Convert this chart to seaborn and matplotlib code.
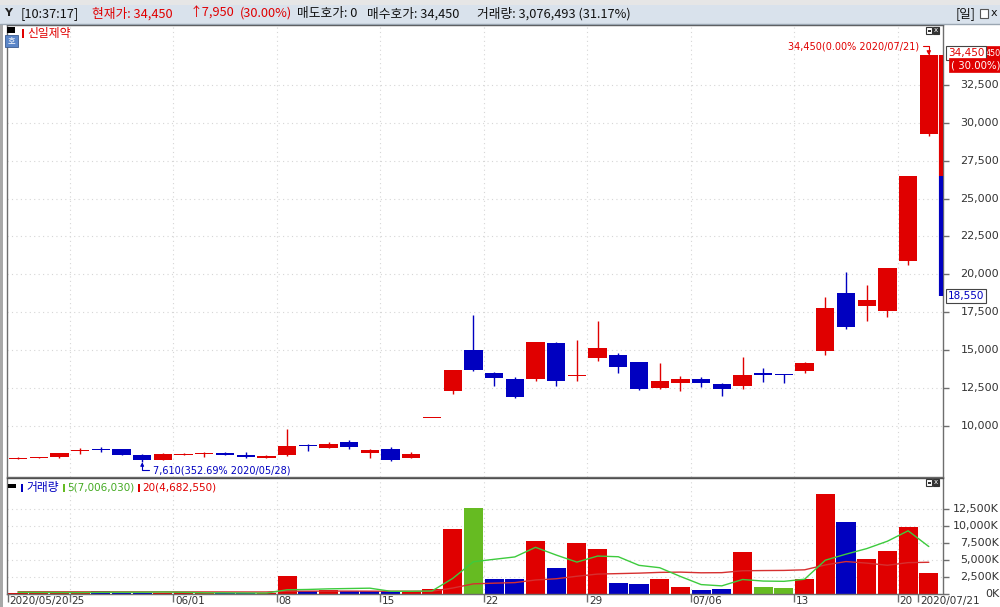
import numpy as np
import pandas as pd
import matplotlib
matplotlib.use("Agg")
import matplotlib.pyplot as plt
import matplotlib.transforms as mtrans
from matplotlib.patches import Rectangle
import seaborn as sns

# ---------------- data ----------------
dates = ["05/20", "05/21", "05/22", "05/25", "05/26", "05/27", "05/28", "05/29",
         "06/01", "06/02", "06/03", "06/04", "06/05", "06/08", "06/09", "06/10",
         "06/11", "06/12", "06/15", "06/16", "06/17", "06/18", "06/19", "06/22",
         "06/23", "06/24", "06/25", "06/26", "06/29", "06/30", "07/01", "07/02",
         "07/03", "07/06", "07/07", "07/08", "07/09", "07/10", "07/13", "07/14",
         "07/15", "07/16", "07/17", "07/20", "07/21"]
opens = [7850, 7900, 7950, 8350, 8420, 8460, 8090, 7760, 8100, 8180, 8240, 8090,
         7920, 8090, 8750, 8570, 8960, 8240, 8460, 7910, 10550, 12310, 15000, 13480,
         13080, 13080, 15470, 13300, 14470, 14680, 14200, 12530, 12820, 13080, 12750,
         12640, 13480, 13400, 13630, 14970, 18790, 17940, 17600, 20900, 29250]
highs = [7950, 7980, 8250, 8530, 8640, 8500, 8150, 8200, 8200, 8300, 8260, 8300,
         8080, 9800, 8800, 8920, 9100, 8450, 8640, 8260, 10550, 13700, 17300, 13560,
         13210, 15540, 15540, 15700, 16950, 14830, 14200, 14140, 13300, 13250, 12820,
         14570, 13800, 13420, 14220, 18490, 20180, 19300, 20400, 26500, 34450]
lows = [7830, 7880, 7920, 8130, 8270, 8060, 7610, 7740, 8100, 7980, 8080, 7870,
        7900, 8050, 8350, 8560, 8460, 7870, 7690, 7900, 10550, 12110, 13600, 12640,
        11870, 12970, 12640, 13000, 14290, 13520, 12370, 12420, 12310, 12550, 11980,
        12440, 12920, 12820, 13480, 14680, 16420, 16950, 17210, 20600, 29150]
closes = [7900, 7960, 8200, 8400, 8400, 8090, 7760, 8130, 8150, 8200, 8100, 7950,
          8040, 8680, 8650, 8790, 8640, 8420, 7760, 8130, 10550, 13700, 13700, 13150,
          11910, 15540, 12990, 13340, 15120, 13870, 12420, 12990, 13120, 12820, 12440,
          13350, 13350, 13350, 14180, 17800, 16550, 18310, 20400, 26500, 34450]
# volume in thousands
volumes = [180, 100, 270, 270, 420, 180, 180, 180, 270, 100, 100, 100, 150, 2650,
           370, 520, 370, 370, 370, 370, 770, 9600, 12680, 2160, 2160, 7860, 3900,
           7470, 6620, 1660, 1510, 2160, 1010, 620, 710, 6180, 1010, 820, 2160,
           14760, 10640, 5130, 6280, 9850, 3076]
vol_kind = ["r", "r", "r", "r", "b", "b", "b", "r", "r", "r", "b", "b", "r", "r",
            "b", "r", "b", "b", "b", "r", "r", "r", "g", "b", "b", "r", "b", "r",
            "r", "b", "b", "r", "r", "b", "b", "r", "g", "g", "r", "r", "b", "r",
            "r", "r", "r"]
ma5 = [250, 230, 220, 210, 250, 260, 260, 300, 250, 180, 170, 150, 140, 620, 670,
       760, 810, 860, 400, 400, 450, 2300, 4760, 5120, 5470, 6890, 5750, 4710, 5600,
       5500, 4230, 3880, 2590, 1390, 1200, 2140, 1910, 1870, 2180, 4990, 5880, 6700,
       7790, 9330, 7006]
ma20 = [330, 330, 325, 320, 320, 320, 315, 315, 310, 310, 305, 300, 300, 420, 420,
        430, 430, 420, 410, 410, 405, 880, 1500, 1600, 1680, 2070, 2250, 2620, 2940,
        3010, 3080, 3190, 3230, 3130, 3150, 3430, 3460, 3480, 3570, 4290, 4790, 4560,
        4240, 4630, 4683]
week_bounds = [2.5, 7.5, 12.5, 17.5, 22.5, 27.5, 32.5, 37.5, 42.5]
xtick_pos = [-0.5, 2.5, 7.5, 12.5, 17.5, 22.5, 27.5, 32.5, 37.5, 42.5, 43.5]
xtick_labels = ["2020/05/20", "25", "06/01", "08", "15", "22", "29", "07/06",
                "13", "20", "2020/07/21"]
price_ticks = [10000, 12500, 15000, 17500, 20000, 22500, 25000, 27500, 30000, 32500]
vol_ticks = [0, 2500, 5000, 7500, 10000, 12500]
upper_limit, base_price, lower_limit = 34450, 26500, 18550
header_segments = [("[10:37:17]", "k"), ("현재가: 34,450", "r"), ("↑7,950", "r"),
                   ("(30.00%)", "r"), ("매도호가: 0", "k"), ("매수호가: 34,450", "k"),
                   ("거래량: 3,076,493 (31.17%)", "k")]
header_x = [21, 92, 190, 240, 297, 367, 477]
stock_name = "신일제약"
vol_legend = ["거래량", "5(7,006,030)", "20(4,682,550)"]
max_note = "34,450(0.00% 2020/07/21)"
min_note = "7,610(352.69% 2020/05/28)"

# ---------------- style ----------------
RED = "#E00000"
BLUE = "#0000C0"
GREENBAR = "#66BB22"
MA5C = "#3DCB3D"
MA20C = "#D63030"
GRID = "#D6D6D6"
AXC = "#6E6E6E"
TXT = "#333333"
HDR = "#D9E2EC"
kind_col = {"r": RED, "b": BLUE, "g": GREENBAR, "k": "#111111"}

sns.set_theme(style="white")
plt.rcParams["font.family"] = ["Noto Sans CJK KR", "DejaVu Sans"]
KR = ["Noto Sans CJK KR", "DejaVu Sans"]
NUM = ["DejaVu Sans"]

W, H = 1000, 607
fig = plt.figure(figsize=(W / 100, H / 100), dpi=100)
fig.patch.set_facecolor("white")


def ax_px(x0, y0, x1, y1, **kw):
    return fig.add_axes([x0 / W, 1 - y1 / H, (x1 - x0) / W, (y1 - y0) / H], **kw)


PX0, PX1 = 7, 943
XL = ((PX0 - 18) / 20.7, (PX1 - 18) / 20.7)
ax_p = ax_px(PX0, 25, PX1, 477)
ax_v = ax_px(PX0, 478, PX1, 594)

idx = np.arange(len(dates))
o = np.array(opens, float)
c = np.array(closes, float)

# ---------------- price panel ----------------
ax_p.set_xlim(*XL)
ax_p.set_ylim(6636, 36450)
for p in price_ticks:
    ax_p.axhline(p, color=GRID, lw=0.8, ls=(0, (1, 3)), zorder=0)
for b in week_bounds:
    ax_p.axvline(b, color=GRID, lw=0.8, ls=(0, (1, 3)), zorder=0)
cols = np.where(c >= o, RED, BLUE)
ax_p.vlines(idx, lows, highs, colors=cols, lw=1, zorder=2)
ax_p.bar(idx, np.maximum(np.abs(c - o), 60), bottom=np.minimum(o, c), width=0.88,
         color=cols, linewidth=0, zorder=3)
ax_p.set_xticks([])
ax_p.yaxis.tick_right()
ax_p.set_yticks(price_ticks)
ax_p.set_yticklabels([])
ax_p.tick_params(axis="y", which="both", right=True, length=4, width=1,
                 color=AXC, direction="out")
for s in ax_p.spines.values():
    s.set_color(AXC)
    s.set_linewidth(1)
ax_p.spines["top"].set_color("#505050")

# daily price-limit bar on the right edge
xr = XL[1] - 1.5 / 20.7
ax_p.vlines(xr, base_price, upper_limit, colors=RED, lw=3, clip_on=False, zorder=6)
ax_p.vlines(xr, lower_limit, base_price, colors=BLUE, lw=3, clip_on=False, zorder=6)

# annotations of max / min
ax_p.annotate(max_note, xy=(idx[-1], highs[-1]), xytext=(-10, 9),
              textcoords="offset pixels", ha="right", va="center", color=RED,
              fontsize=7, family=NUM,
              arrowprops=dict(arrowstyle="-|>", color=RED, lw=0.8, mutation_scale=6,
                              shrinkA=1, shrinkB=0,
                              connectionstyle="angle,angleA=0,angleB=90,rad=0"))
imin = int(np.argmin(lows))
ax_p.annotate(min_note, xy=(idx[imin], lows[imin]), xytext=(11, -8),
              textcoords="offset pixels", ha="left", va="center", color=BLUE,
              fontsize=7, family=NUM,
              arrowprops=dict(arrowstyle="-|>", color=BLUE, lw=0.8, mutation_scale=5,
                              shrinkA=1, shrinkB=0,
                              connectionstyle="angle,angleA=0,angleB=90,rad=0"))

# ---------------- volume panel ----------------
vdf = pd.DataFrame({"date": dates, "vol": volumes})
pal = {d: kind_col[k] for d, k in zip(dates, vol_kind)}
sns.barplot(data=vdf, x="date", y="vol", hue="date", order=dates, palette=pal,
            legend=False, width=0.92, saturation=1, linewidth=0, ax=ax_v, zorder=2)
for b in week_bounds:
    ax_v.axvline(b, color=GRID, lw=0.8, ls=(0, (1, 3)), zorder=0)
for v in vol_ticks[1:]:
    ax_v.axhline(v, color=GRID, lw=0.8, ls=(0, (1, 3)), zorder=0)
sns.lineplot(x=idx, y=ma20, ax=ax_v, color=MA20C, lw=1, zorder=4)
sns.lineplot(x=idx, y=ma5, ax=ax_v, color=MA5C, lw=1, zorder=5)
ax_v.set_xlim(*XL)
ax_v.set_ylim(0, 116 * 147.6)
ax_v.set_xlabel("")
ax_v.set_ylabel("")
ax_v.set_xticks(xtick_pos)
ax_v.set_xticklabels([])
ax_v.tick_params(axis="x", bottom=True, length=6, width=1, color=AXC, direction="out")
ax_v.yaxis.tick_right()
ax_v.set_yticks(vol_ticks)
ax_v.set_yticklabels([])
ax_v.tick_params(axis="y", right=True, length=4, width=1, color=AXC, direction="out")
for s in ax_v.spines.values():
    s.set_color(AXC)
    s.set_linewidth(1)
ax_v.spines["top"].set_color("#505050")

# ---------------- axis labels ----------------
bt_p = mtrans.blended_transform_factory(fig.transFigure, ax_p.transData)
bt_v = mtrans.blended_transform_factory(fig.transFigure, ax_v.transData)
for p in price_ticks:
    fig.text(999 / W, p, f"{p:,}", transform=bt_p, ha="right", va="center",
             fontsize=8, color=TXT, family=NUM)
for v in vol_ticks:
    fig.text(999 / W, v, f"{v:,}K", transform=bt_v, ha="right", va="center",
             fontsize=8, color=TXT, family=NUM)
bt_x = mtrans.blended_transform_factory(ax_v.transData, fig.transFigure)
bt_x = mtrans.offset_copy(bt_x, fig=fig, x=2, y=0, units="dots")
for pos, lab in zip(xtick_pos, xtick_labels):
    fig.text(pos, 1 - 601 / H, lab, transform=bt_x, ha="left", va="center",
             fontsize=7.5, color=TXT, family=NUM)

# price boxes on right axis
t_up = mtrans.offset_copy(bt_p, fig=fig, x=0, y=2, units="dots")
fig.text(985.5 / W, upper_limit, "450", transform=t_up, ha="left", va="center",
         fontsize=5.8, color="white", family=NUM,
         bbox=dict(boxstyle="square,pad=0.35", fc=RED, ec=RED, lw=0.5))
fig.text(948 / W, upper_limit, f"{upper_limit:,}", transform=t_up, ha="left",
         va="center", fontsize=7.5, color=RED, family=NUM,
         bbox=dict(boxstyle="square,pad=0.2", fc="white", ec="#444444", lw=0.8))
t_pct = mtrans.offset_copy(bt_p, fig=fig, x=0, y=-10, units="dots")
fig.text(951 / W, upper_limit, "( 30.00%)", transform=t_pct, ha="left", va="center",
         fontsize=7.3, color="white", family=NUM,
         bbox=dict(boxstyle="square,pad=0.2", fc=RED, ec=RED, lw=0.5))
fig.text(948 / W, lower_limit, f"{lower_limit:,}", transform=bt_p, ha="left",
         va="center", fontsize=7.5, color=BLUE, family=NUM,
         bbox=dict(boxstyle="square,pad=0.2", fc="white", ec="#444444", lw=0.8))

# ---------------- overlay: header, legends, icons ----------------
ov = fig.add_axes([0, 0, 1, 1], zorder=10)
ov.set_xlim(0, W)
ov.set_ylim(H, 0)
ov.axis("off")

ov.add_patch(Rectangle((0, 0), W, 5, fc="#E6E6E6", ec="none"))
ov.add_patch(Rectangle((0, 5), W, 19, fc=HDR, ec="none"))
ov.plot([0, W], [23.5, 23.5], color="#9AA6B2", lw=1)
ov.text(4, 13.5, "Y", fontsize=8, color="#222222", family=NUM, fontweight="bold",
        va="center", ha="left")
for (txt, k), x in zip(header_segments, header_x):
    ov.text(x, 13.5, txt, fontsize=9.2, color=kind_col[k], family=KR,
            va="center", ha="left")
ov.text(956, 13.5, "[일]", fontsize=9, color="#111111", family=KR, va="center")
ov.add_patch(Rectangle((980, 9), 8, 9, fc="white", ec="#555555", lw=0.8))
ov.text(994, 13.5, "x", fontsize=8, color="#111111", family=NUM, va="center",
        ha="center")
# left window border
ov.add_patch(Rectangle((0, 24), 3, H - 24, fc="#A8A8A8", ec="none"))

# price panel legend & icons
ov.add_patch(Rectangle((7, 27), 8, 6, fc="black", ec="none"))
ov.add_patch(Rectangle((5, 35), 13, 12, fc="#5B86C8", ec="#3A5A90", lw=0.6))
ov.text(11.5, 41, "호", fontsize=6, color="white", family=KR, ha="center",
        va="center")
ov.add_patch(Rectangle((22, 28.5), 2.2, 9, fc=RED, ec="none"))
ov.text(27, 33, stock_name, fontsize=8.5, color=RED, family=KR, va="center",
        ha="left")
for yy in (27, 479):
    ov.add_patch(Rectangle((926, yy), 6, 7, fc="white", ec="#333333", lw=0.8))
    ov.add_patch(Rectangle((927.5, yy + 2.5), 3, 2, fc="#333333", ec="none"))
    ov.add_patch(Rectangle((933, yy), 6, 7, fc="#333333", ec="#333333", lw=0.8))
    ov.text(936, yy + 3.5, "x", fontsize=5, color="white", family=NUM,
            ha="center", va="center")

# volume legend
ov.add_patch(Rectangle((8, 484), 8, 4, fc="black", ec="none"))
ov.add_patch(Rectangle((21, 484), 2.2, 8, fc=BLUE, ec="none"))
ov.text(26, 488, vol_legend[0], fontsize=8.5, color=BLUE, family=KR, va="center",
        ha="left")
ov.add_patch(Rectangle((63, 484), 2.2, 8, fc=GREENBAR, ec="none"))
ov.text(67, 488, vol_legend[1], fontsize=7.5, color="#44AA22", family=NUM,
        va="center", ha="left")
ov.add_patch(Rectangle((138, 484), 2.2, 8, fc=RED, ec="none"))
ov.text(142, 488, vol_legend[2], fontsize=7.5, color=RED, family=NUM,
        va="center", ha="left")

fig.savefig("out.png", dpi=100)
